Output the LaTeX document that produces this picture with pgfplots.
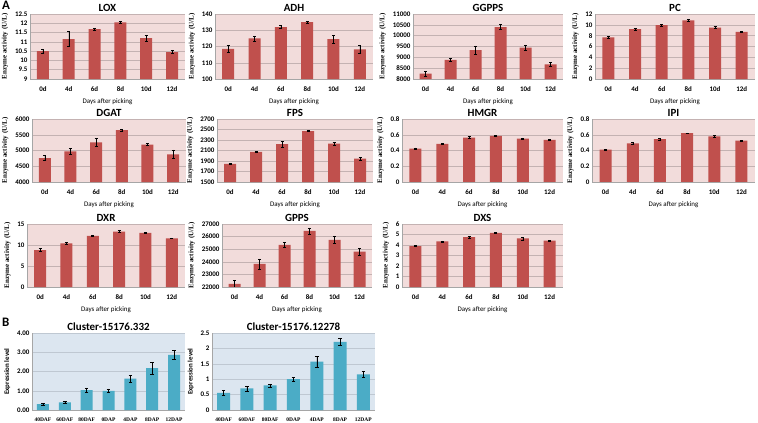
\documentclass[border=0pt]{standalone}
\usepackage{fontspec}
\setmainfont{Carlito}
\newfontfamily\tnr{Liberation Serif}
\usepackage{pgfplots}
\pgfplotsset{compat=1.18}
\definecolor{barred}{HTML}{C0504D}
\definecolor{pinkbg}{HTML}{F2DCDB}
\definecolor{bluebg}{HTML}{DCE6F0}
\definecolor{barblue}{HTML}{4BACC6}
\definecolor{gridA}{HTML}{C4B2B2}
\definecolor{gridB}{HTML}{BFC8D2}
\pgfplotsset{
 base/.style={scale only axis, anchor=north west, ybar, xmin=-0.5,
   axis lines*=left, axis line style={draw=gray!70, line width=0.5pt},
   ymajorgrids, tick style={draw=none}, scaled y ticks=false,
   /pgf/number format/1000 sep={}, /pgf/number format/assume math mode=true,
   ticklabel style={font=\fontsize{7}{8}\selectfont\bfseries},
   every axis title/.style={font=\bfseries\fontsize{11}{12}\selectfont, at={(0.5,1)}, anchor=south, inner sep=0pt, yshift=2.5bp},
   yticklabel style={xshift=1bp}},
 Astyle/.style={base, bar width=12bp, xmax=5.5, xtick={0,...,5},
   xticklabels={0d,4d,6d,8d,10d,12d},
   axis background/.style={fill=pinkbg},
   grid style={draw=gridA, line width=0.5pt},
   xlabel={Days after picking}, ylabel={Enzyme activity (U/L)},
   xlabel style={font=\fontsize{7}{8}\selectfont},
   ylabel style={font=\tnr\bfseries\fontsize{7}{8}\selectfont}},
 Bstyle/.style={base, xmax=6.5, xtick={0,...,6},
   xticklabels={40DAF,60DAF,80DAF,0DAP,4DAP,8DAP,12DAP},
   axis background/.style={fill=bluebg},
   grid style={draw=gridB, line width=0.5pt},
   ylabel={Expression level},
   ylabel style={font=\bfseries\fontsize{7}{8}\selectfont},
   xticklabel style={font=\tnr\bfseries\fontsize{5.5}{6}\selectfont}},
 errA/.style={fill=barred, draw=none, error bars/.cd, y dir=both, y explicit,
   error bar style={black, line width=0.45pt},
   error mark options={rotate=90, black, mark size=1.5bp, line width=0.45pt}},
 errB/.style={fill=barblue, draw=none, error bars/.cd, y dir=both, y explicit,
   error bar style={black, line width=0.5pt},
   error mark options={rotate=90, black, mark size=1.8bp, line width=0.5pt}}
}
\begin{document}
\begin{tikzpicture}
\path[use as bounding box] (0bp,0bp) rectangle (758bp,-423bp);
\node[anchor=north west, inner sep=0pt, font=\bfseries\fontsize{13}{13}\selectfont] at (2bp,-1bp) {A};
\node[anchor=north west, inner sep=0pt, font=\bfseries\fontsize{13}{13}\selectfont] at (2bp,-318bp) {B};
% ---------- Row 1
\begin{axis}[Astyle, at={(30bp,-14bp)}, width=155bp, height=65bp, title={LOX},
  ymin=9, ymax=12.5, ytick={9,9.5,...,12.5}]
\addplot[errA] coordinates {(0,10.5)+-(0,0.1) (1,11.15)+-(0,0.4) (2,11.68)+-(0,0.04) (3,12.05)+-(0,0.07) (4,11.2)+-(0,0.15) (5,10.45)+-(0,0.08)};
\end{axis}
\begin{axis}[Astyle, at={(215bp,-14bp)}, width=158bp, height=65bp, title={ADH},
  ymin=100, ymax=140, ytick={100,110,...,140}]
\addplot[errA] coordinates {(0,118.5)+-(0,2) (1,125)+-(0,1.5) (2,132)+-(0,1) (3,135)+-(0,0.6) (4,124.5)+-(0,2.5) (5,118.2)+-(0,2.5)};
\end{axis}
\begin{axis}[Astyle, at={(413bp,-14bp)}, width=150bp, height=65bp, title={GGPPS},
  ymin=8000, ymax=11000, ytick={8000,8500,...,11000}]
\addplot[errA] coordinates {(0,8250)+-(0,110) (1,8880)+-(0,60) (2,9330)+-(0,200) (3,10400)+-(0,110) (4,9450)+-(0,120) (5,8680)+-(0,100)};
\end{axis}
\begin{axis}[Astyle, at={(595bp,-14bp)}, width=160bp, height=65bp, title={PC},
  ymin=0, ymax=12, ytick={0,2,...,12}]
\addplot[errA] coordinates {(0,7.7)+-(0,0.15) (1,9.2)+-(0,0.15) (2,9.95)+-(0,0.2) (3,10.8)+-(0,0.15) (4,9.5)+-(0,0.2) (5,8.7)+-(0,0.1)};
\end{axis}
% ---------- Row 2
\begin{axis}[Astyle, at={(32bp,-119bp)}, width=154bp, height=63bp, title={DGAT},
  ymin=4000, ymax=6000, ytick={4000,4500,...,6000}]
\addplot[errA] coordinates {(0,4760)+-(0,80) (1,4970)+-(0,90) (2,5260)+-(0,130) (3,5650)+-(0,40) (4,5190)+-(0,30) (5,4880)+-(0,140)};
\end{axis}
\begin{axis}[Astyle, at={(217bp,-119bp)}, width=156bp, height=63bp, title={FPS},
  ymin=1500, ymax=2700, ytick={1500,1700,...,2700}]
\addplot[errA] coordinates {(0,1845)+-(0,10) (1,2075)+-(0,15) (2,2220)+-(0,50) (3,2470)+-(0,10) (4,2230)+-(0,25) (5,1945)+-(0,30)};
\end{axis}
\begin{axis}[Astyle, at={(402bp,-119bp)}, width=161bp, height=63bp, title={HMGR},
  ymin=0, ymax=0.8, ytick={0,0.2,0.4,0.6,0.8}]
\addplot[errA] coordinates {(0,0.425)+-(0,0.01) (1,0.485)+-(0,0.006) (2,0.565)+-(0,0.01) (3,0.585)+-(0,0.005) (4,0.55)+-(0,0.01) (5,0.535)+-(0,0.006)};
\end{axis}
\begin{axis}[Astyle, at={(592bp,-119bp)}, width=163bp, height=63bp, title={IPI},
  ymin=0, ymax=0.8, ytick={0,0.2,0.4,0.6,0.8}]
\addplot[errA] coordinates {(0,0.41)+-(0,0.01) (1,0.49)+-(0,0.01) (2,0.545)+-(0,0.01) (3,0.62)+-(0,0.005) (4,0.58)+-(0,0.015) (5,0.525)+-(0,0.006)};
\end{axis}
% ---------- Row 3
\begin{axis}[Astyle, at={(27bp,-224bp)}, width=158bp, height=63bp, title={DXR},
  ymin=0, ymax=15, ytick={0,5,10,15}]
\addplot[errA] coordinates {(0,8.8)+-(0,0.4) (1,10.4)+-(0,0.2) (2,12.2)+-(0,0.2) (3,13.2)+-(0,0.2) (4,12.9)+-(0,0.2) (5,11.6)+-(0,0.1)};
\end{axis}
\begin{axis}[Astyle, at={(222bp,-224bp)}, width=150bp, height=63bp, title={GPPS},
  ymin=22000, ymax=27000, ytick={22000,23000,...,27000}]
\addplot[errA] coordinates {(0,22250)+-(0,250) (1,23830)+-(0,400) (2,25350)+-(0,200) (3,26450)+-(0,250) (4,25750)+-(0,300) (5,24800)+-(0,250)};
\end{axis}
\begin{axis}[Astyle, at={(402bp,-224bp)}, width=161bp, height=63bp, title={DXS},
  ymin=0, ymax=6, ytick={0,1,...,6}]
\addplot[errA] coordinates {(0,3.9)+-(0,0.05) (1,4.35)+-(0,0.05) (2,4.75)+-(0,0.1) (3,5.15)+-(0,0.07) (4,4.62)+-(0,0.12) (5,4.42)+-(0,0.04)};
\end{axis}
% ---------- Panel B
\begin{axis}[Bstyle, at={(32bp,-333bp)}, width=153bp, height=77bp, title={Cluster-15176.332},
  bar width=12bp, ymin=0, ymax=4, ytick={0,1,2,3,4},
  yticklabel style={/pgf/number format/.cd, fixed, fixed zerofill, precision=2}]
\addplot[errB] coordinates {(0,0.3)+-(0,0.03) (1,0.4)+-(0,0.03) (2,1.03)+-(0,0.12) (3,1.0)+-(0,0.1) (4,1.63)+-(0,0.18) (5,2.17)+-(0,0.3) (6,2.87)+-(0,0.22)};
\end{axis}
\begin{axis}[Bstyle, at={(212bp,-333bp)}, width=163bp, height=77bp, title={Cluster-15176.12278},
  bar width=13bp, ymin=0, ymax=2.5, ytick={0,0.5,1,1.5,2,2.5}]
\addplot[errB] coordinates {(0,0.56)+-(0,0.07) (1,0.70)+-(0,0.08) (2,0.80)+-(0,0.05) (3,1.0)+-(0,0.06) (4,1.57)+-(0,0.18) (5,2.21)+-(0,0.12) (6,1.16)+-(0,0.1)};
\end{axis}
\end{tikzpicture}
\end{document}
